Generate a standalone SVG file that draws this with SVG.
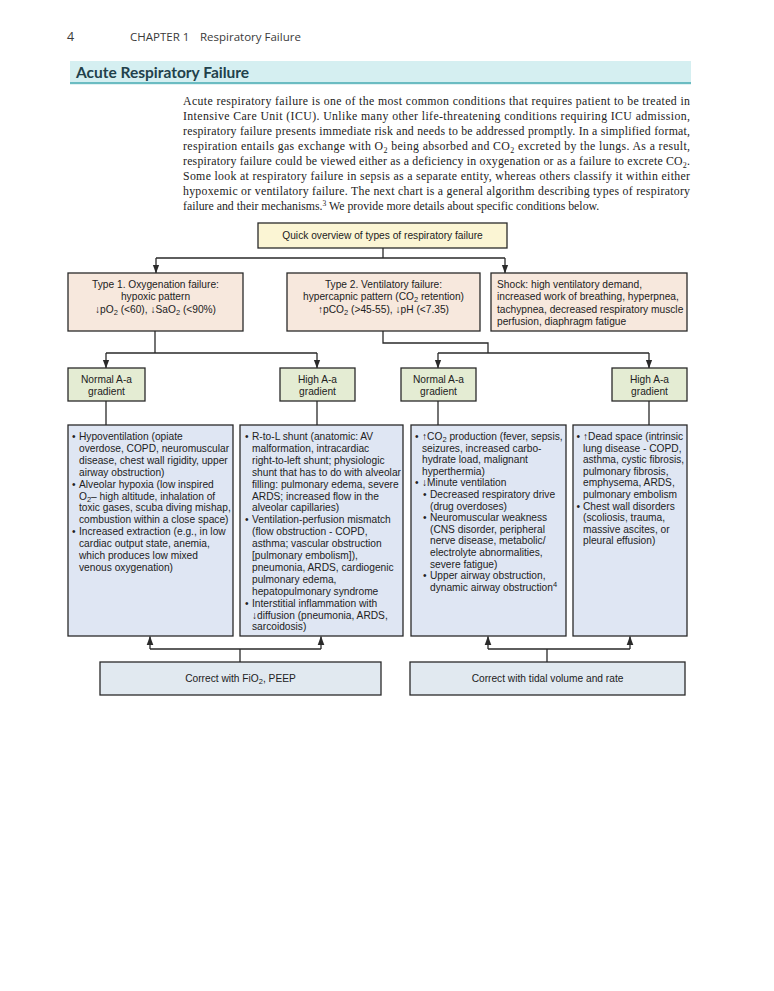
<svg xmlns="http://www.w3.org/2000/svg" width="774" height="991" viewBox="0 0 774 991">
<defs>
<style>
.hdr{font-family:"Open Sans","Liberation Sans",sans-serif;fill:#3a3a3a}
.ttl{font-family:Lato,"Liberation Sans",sans-serif;font-weight:700;font-size:15.5px;fill:#22414b}
.para{font-family:"Liberation Serif",serif;font-size:11.8px;fill:#222}
.t{font-family:"Liberation Sans",Arial,sans-serif;font-size:10.2px;fill:#222}
.c{text-anchor:middle}
.box{stroke:#2a2a2a;stroke-width:1.3}
.y{fill:#fbf5d4}
.p{fill:#f7e8dd}
.g{fill:#e4ecd3}
.b{fill:#dfe6f3}
.k{fill:#e1e9f0}
.ln{fill:none;stroke:#2a2a2a;stroke-width:1.3}
</style>
<marker id="ah" markerUnits="userSpaceOnUse" markerWidth="9" markerHeight="9" viewBox="0 0 9 9" refX="8.5" refY="4.5" orient="auto">
<path d="M0,1.2 L9,4.5 L0,7.8 Z" fill="#2a2a2a"/>
</marker>
</defs>
<rect width="774" height="991" fill="#ffffff"/>

<g id="page-header">
<text class="hdr" x="67" y="41" font-size="12.5">4</text>
<text class="hdr" x="130" y="41" font-size="11.5">CHAPTER 1</text>
<text class="hdr" x="200" y="41" font-size="11.5">Respiratory Failure</text>
<rect x="70" y="61" width="621" height="22" fill="#d5eff1"/>
<rect x="70" y="82" width="621" height="2.2" fill="#6bbcc2"/>
<text class="ttl" x="76" y="78">Acute Respiratory Failure</text>
</g>

<g id="intro-text" class="para">
<text x="183" y="105" textLength="507" lengthAdjust="spacing">Acute respiratory failure is one of the most common conditions that requires patient to be treated in</text>
<text x="183" y="120" textLength="507" lengthAdjust="spacing">Intensive Care Unit (ICU). Unlike many other life-threatening conditions requiring ICU admission,</text>
<text x="183" y="135" textLength="507" lengthAdjust="spacing">respiratory failure presents immediate risk and needs to be addressed promptly. In a simplified format,</text>
<text x="183" y="150" textLength="507" lengthAdjust="spacing">respiration entails gas exchange with O<tspan dy="2.5" font-size="8">2</tspan><tspan dy="-2.5"> being absorbed and CO</tspan><tspan dy="2.5" font-size="8">2</tspan><tspan dy="-2.5"> excreted by the lungs. As a result,</tspan></text>
<text x="183" y="165" textLength="507" lengthAdjust="spacing">respiratory failure could be viewed either as a deficiency in oxygenation or as a failure to excrete CO<tspan dy="2.5" font-size="8">2</tspan><tspan dy="-2.5">.</tspan></text>
<text x="183" y="180" textLength="507" lengthAdjust="spacing">Some look at respiratory failure in sepsis as a separate entity, whereas others classify it within either</text>
<text x="183" y="195" textLength="507" lengthAdjust="spacing">hypoxemic or ventilatory failure. The next chart is a general algorithm describing types of respiratory</text>
<text x="183" y="210">failure and their mechanisms.<tspan dy="-4" font-size="7.5">3</tspan><tspan dy="4"> We provide more details about specific conditions below.</tspan></text>
</g>

<g id="connectors" class="ln">
<path d="M383,248 V258 M156,258 H505"/>
<path d="M156,258 V273" marker-end="url(#ah)"/>
<path d="M505,258 V273" marker-end="url(#ah)"/>
<path d="M155,331 V353 M106,353 H317"/>
<path d="M106,353 V368" marker-end="url(#ah)"/>
<path d="M317,353 V368" marker-end="url(#ah)"/>
<path d="M383,331 V343 H488 V353 M438,353 H649"/>
<path d="M438,353 V368" marker-end="url(#ah)"/>
<path d="M649,353 V368" marker-end="url(#ah)"/>
<path d="M106,401 V425 M317,401 V425 M438,401 V425 M649,401 V425"/>
<path d="M240,662 V649 M150,649 H321"/>
<path d="M150,649 V636.5" marker-end="url(#ah)"/>
<path d="M321,649 V636.5" marker-end="url(#ah)"/>
<path d="M547,662 V649 M488,649 H630"/>
<path d="M488,649 V636.5" marker-end="url(#ah)"/>
<path d="M630,649 V636.5" marker-end="url(#ah)"/>
</g>

<g id="overview">
<rect class="box y" x="258" y="223" width="249" height="25"/>
<text class="t c" x="382.5" y="239">Quick overview of types of respiratory failure</text>
</g>

<g id="type1">
<rect class="box p" x="68" y="273" width="175" height="58"/>
<text class="t c" x="155.5" y="287.5">Type 1.  Oxygenation failure:</text>
<text class="t c" x="155.5" y="300">hypoxic pattern</text>
<text class="t c" x="155.5" y="312.5">↓pO<tspan dy="2" font-size="7.5">2</tspan><tspan dy="-2"> (&lt;60), ↓SaO</tspan><tspan dy="2" font-size="7.5">2</tspan><tspan dy="-2"> (&lt;90%)</tspan></text>
</g>

<g id="type2">
<rect class="box p" x="287" y="273" width="193" height="58"/>
<text class="t c" x="383.5" y="287.5">Type 2.  Ventilatory failure:</text>
<text class="t c" x="383.5" y="300">hypercapnic pattern (CO<tspan dy="2" font-size="7.5">2</tspan><tspan dy="-2"> retention)</tspan></text>
<text class="t c" x="383.5" y="312.5">↑pCO<tspan dy="2" font-size="7.5">2</tspan><tspan dy="-2"> (&gt;45-55), ↓pH (&lt;7.35)</tspan></text>
</g>

<g id="shock">
<rect class="box p" x="491" y="273" width="196" height="58"/>
<text class="t" x="497" y="287.5">Shock: high ventilatory demand,</text>
<text class="t" x="497" y="300">increased work of breathing, hyperpnea,</text>
<text class="t" x="497" y="312.5">tachypnea, decreased respiratory muscle</text>
<text class="t" x="497" y="325">perfusion, diaphragm fatigue</text>
</g>

<g id="grad1">
<rect class="box g" x="68" y="368" width="77" height="33"/>
<text class="t c" x="106.5" y="383">Normal A-a</text>
<text class="t c" x="106.5" y="395">gradient</text>
</g>
<g id="grad2">
<rect class="box g" x="280" y="368" width="75" height="33"/>
<text class="t c" x="317.5" y="383">High A-a</text>
<text class="t c" x="317.5" y="395">gradient</text>
</g>
<g id="grad3">
<rect class="box g" x="401" y="368" width="75" height="33"/>
<text class="t c" x="438.5" y="383">Normal A-a</text>
<text class="t c" x="438.5" y="395">gradient</text>
</g>
<g id="grad4">
<rect class="box g" x="612" y="368" width="75" height="33"/>
<text class="t c" x="649.5" y="383">High A-a</text>
<text class="t c" x="649.5" y="395">gradient</text>
</g>

<g id="list1">
<rect class="box b" x="68" y="425" width="165" height="211"/>
<g class="t">
<text x="72" y="440">•</text><text x="79" y="440">Hypoventilation (opiate</text>
<text x="79" y="451.9">overdose, COPD, neuromuscular</text>
<text x="79" y="463.8">disease, chest wall rigidity, upper</text>
<text x="79" y="475.7">airway obstruction)</text>
<text x="72" y="487.6">•</text><text x="79" y="487.6">Alveolar hypoxia (low inspired</text>
<text x="79" y="499.5">O<tspan dy="2" font-size="7.5">2</tspan><tspan dy="-2">– high altitude, inhalation of</tspan></text>
<text x="79" y="511.4">toxic gases, scuba diving mishap,</text>
<text x="79" y="523.3">combustion within a close space)</text>
<text x="72" y="535.2">•</text><text x="79" y="535.2">Increased extraction (e.g., in low</text>
<text x="79" y="547.1">cardiac output state, anemia,</text>
<text x="79" y="559">which produces low mixed</text>
<text x="79" y="570.9">venous oxygenation)</text>
</g>
</g>

<g id="list2">
<rect class="box b" x="240" y="425" width="163" height="211"/>
<g class="t">
<text x="245" y="440">•</text><text x="252" y="440">R-to-L shunt (anatomic: AV</text>
<text x="252" y="451.9">malformation, intracardiac</text>
<text x="252" y="463.8">right-to-left shunt; physiologic</text>
<text x="252" y="475.7">shunt that has to do with alveolar</text>
<text x="252" y="487.6">filling: pulmonary edema, severe</text>
<text x="252" y="499.5">ARDS; increased flow in the</text>
<text x="252" y="511.4">alveolar capillaries)</text>
<text x="245" y="523.3">•</text><text x="252" y="523.3">Ventilation-perfusion mismatch</text>
<text x="252" y="535.2">(flow obstruction - COPD,</text>
<text x="252" y="547.1">asthma; vascular obstruction</text>
<text x="252" y="559">[pulmonary embolism]),</text>
<text x="252" y="570.9">pneumonia, ARDS, cardiogenic</text>
<text x="252" y="582.8">pulmonary edema,</text>
<text x="252" y="594.7">hepatopulmonary syndrome</text>
<text x="245" y="606.6">•</text><text x="252" y="606.6">Interstitial inflammation with</text>
<text x="252" y="618.5">↓diffusion (pneumonia, ARDS,</text>
<text x="252" y="630.4">sarcoidosis)</text>
</g>
</g>

<g id="list3">
<rect class="box b" x="411" y="425" width="155" height="211"/>
<g class="t">
<text x="415" y="440">•</text><text x="422" y="440">↑CO<tspan dy="2" font-size="7.5">2</tspan><tspan dy="-2"> production (fever, sepsis,</tspan></text>
<text x="422" y="451.6">seizures, increased carbo-</text>
<text x="422" y="463.2">hydrate load, malignant</text>
<text x="422" y="474.8">hyperthermia)</text>
<text x="415" y="486.4">•</text><text x="422" y="486.4">↓Minute ventilation</text>
<text x="423" y="498">•</text><text x="430" y="498">Decreased respiratory drive</text>
<text x="430" y="509.6">(drug overdoses)</text>
<text x="423" y="521.2">•</text><text x="430" y="521.2">Neuromuscular weakness</text>
<text x="430" y="532.8">(CNS disorder, peripheral</text>
<text x="430" y="544.4">nerve disease, metabolic/</text>
<text x="430" y="556">electrolyte abnormalities,</text>
<text x="430" y="567.6">severe fatigue)</text>
<text x="423" y="579.2">•</text><text x="430" y="579.2">Upper airway obstruction,</text>
<text x="430" y="590.8">dynamic airway obstruction<tspan dy="-3.5" font-size="7.5">4</tspan></text>
</g>
</g>

<g id="list4">
<rect class="box b" x="573" y="425" width="114" height="211"/>
<g class="t">
<text x="576.5" y="440">•</text><text x="583" y="440">↑Dead space (intrinsic</text>
<text x="583" y="451.6">lung disease - COPD,</text>
<text x="583" y="463.2" textLength="101" lengthAdjust="spacingAndGlyphs">asthma, cystic fibrosis,</text>
<text x="583" y="474.8">pulmonary fibrosis,</text>
<text x="583" y="486.4">emphysema, ARDS,</text>
<text x="583" y="498">pulmonary embolism</text>
<text x="576.5" y="509.6">•</text><text x="583" y="509.6">Chest wall disorders</text>
<text x="583" y="521.2">(scoliosis, trauma,</text>
<text x="583" y="532.8">massive ascites, or</text>
<text x="583" y="544.4">pleural effusion)</text>
</g>
</g>

<g id="correct1">
<rect class="box k" x="100" y="662" width="281" height="33"/>
<text class="t c" x="240.5" y="682">Correct with FiO<tspan dy="2" font-size="7.5">2</tspan><tspan dy="-2">, PEEP</tspan></text>
</g>
<g id="correct2">
<rect class="box k" x="410" y="662" width="275" height="33"/>
<text class="t c" x="547.5" y="682">Correct with tidal volume and rate</text>
</g>
</svg>
